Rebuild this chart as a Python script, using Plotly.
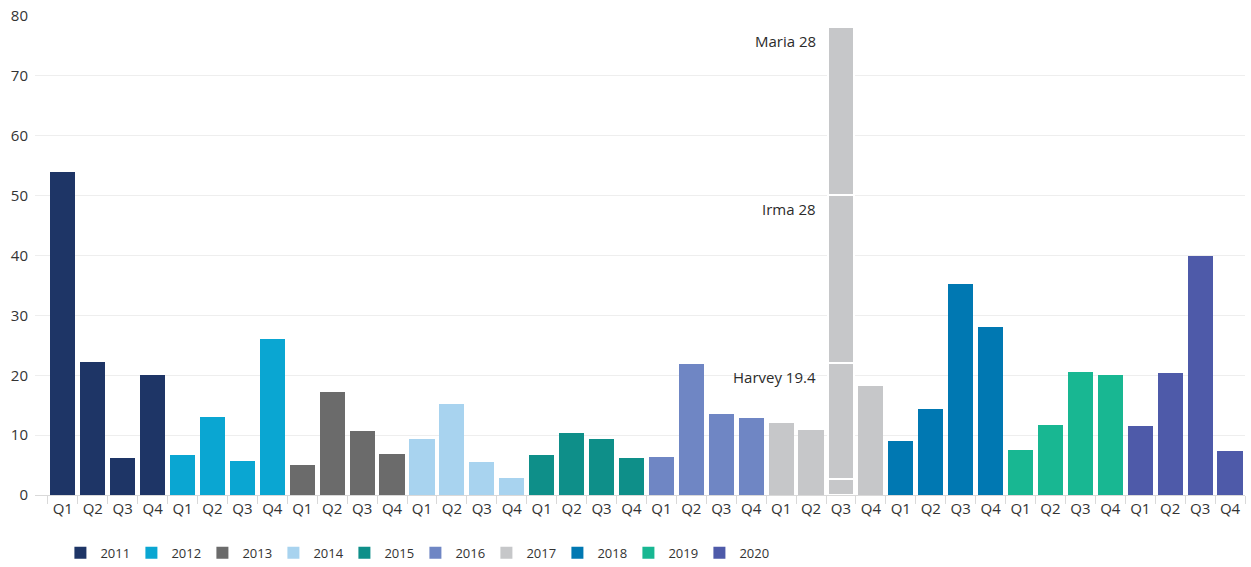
import plotly.graph_objects as go

years = ["2011", "2012", "2013", "2014", "2015", "2016", "2017", "2018", "2019", "2020"]
quarters = ["Q1", "Q2", "Q3", "Q4"]
values = {
    "2011": [54.0, 22.2, 6.1, 20.0],
    "2012": [6.6, 13.0, 5.6, 26.0],
    "2013": [5.0, 17.2, 10.7, 6.9],
    "2014": [9.4, 15.2, 5.5, 2.8],
    "2015": [6.7, 10.4, 9.4, 6.1],
    "2016": [6.4, 21.9, 13.5, 12.8],
    "2017": [12.0, 10.8, 2.7, 18.2],
    "2018": [9.0, 14.4, 35.2, 28.1],
    "2019": [7.6, 11.7, 20.5, 20.1],
    "2020": [11.5, 20.3, 40.0, 7.3],
}
colors = ["#1e3566", "#0aa6d2", "#6b6b6b", "#a8d3ef", "#0e8f89",
          "#6f86c4", "#c6c7c9", "#0078b2", "#18b792", "#4e5aa9"]

# Hurricane losses stacked on 2017 Q3
storm_names = ["Harvey", "Irma", "Maria"]
storm_values = [19.4, 28, 28]
storm_year = "2017"
storm_quarter = "Q3"

fig = go.Figure()
tick_pos = []
tick_text = []
for yi, yr in enumerate(years):
    xs = [yi * 4 + qi for qi in range(4)]
    tick_pos += xs
    tick_text += quarters
    lw = [2 if (yr == storm_year and q == storm_quarter) else 0 for q in quarters]
    fig.add_trace(go.Bar(
        x=xs, y=values[yr], name=yr,
        marker=dict(color=colors[yi], line=dict(color="white", width=lw)),
        hoverinfo="x+y",
    ))

sx = years.index(storm_year) * 4 + quarters.index(storm_quarter)
base = values[storm_year][quarters.index(storm_quarter)]
cum = base
for name, v in zip(storm_names, storm_values):
    fig.add_trace(go.Bar(
        x=[sx], y=[v], name=name, showlegend=False,
        marker=dict(color=colors[years.index(storm_year)], line=dict(color="white", width=2)),
    ))
    cum += v
    fig.add_annotation(x=sx - 0.5, y=cum, text=f"{name} {v:g}", showarrow=False,
                       xanchor="right", yanchor="top", xshift=-8, yshift=-2,
                       font=dict(size=15, color="#2b2b2b"))

fig.update_layout(
    barmode="stack",
    bargap=0.16,
    width=1251, height=567,
    margin=dict(l=35, r=6, t=16, b=72),
    plot_bgcolor="white", paper_bgcolor="white",
    font=dict(family="Open Sans, Lato, sans-serif", size=14, color="#333333"),
    xaxis=dict(
        range=[-0.93, 39.5],
        tickmode="array", tickvals=tick_pos, ticktext=tick_text,
        ticks="", showgrid=False, zeroline=False,
        showline=True, linecolor="#d9d9d9", linewidth=1,
        tickfont=dict(size=15, color="#333333"),
        minor=dict(tickmode="linear", tick0=-0.5, dtick=1, ticks="outside",
                   ticklen=8, tickcolor="#d9d9d9", tickwidth=1),
    ),
    yaxis=dict(
        range=[0, 80], tickvals=[0, 10, 20, 30, 40, 50, 60, 70, 80],
        showgrid=True, gridcolor="#eeeeee", gridwidth=1, zeroline=False,
        ticks="", tickfont=dict(size=15, color="#333333"), ticklabelstandoff=6,
    ),
    legend=dict(orientation="h", x=0.021, xanchor="left",
                yref="container", y=0.025, yanchor="middle",
                font=dict(size=13, color="#333333"), entrywidth=26, traceorder="normal",
                itemwidth=30, tracegroupgap=0, bgcolor="rgba(0,0,0,0)"),
    showlegend=True,
)

fig.write_html("out.html")
